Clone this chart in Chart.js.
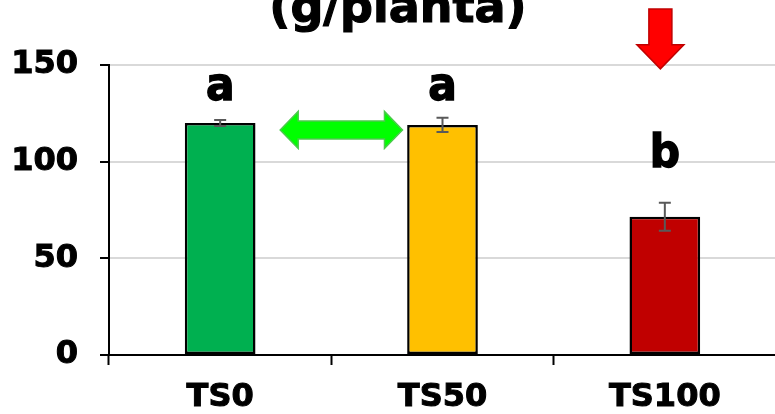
<!DOCTYPE html>
<html>
<head>
<meta charset="utf-8">
<script src="https://cdn.jsdelivr.net/npm/chart.js@4/dist/chart.umd.min.js"></script>
<style>
  html, body { margin: 0; padding: 0; background: #fff; overflow: hidden; }
  #wrap { width: 775px; height: 414px; overflow: hidden; }
</style>
</head>
<body>
<div id="wrap"><canvas id="c" width="780" height="414"></canvas></div>
<script>
// Fresh weight per plant, by treatment
const categories = ['TS0', 'TS50', 'TS100'];
const weights = [120, 119, 71.5];
const stdErrors = [1.5, 3.7, 7.2];
const groupLetters = ['a', 'a', 'b'];
const letterLevels = [132, 132, 97];
const barColors = ['#00B050', '#FFC000', '#C00000'];
const yTicks = [0, 50, 100, 150];
const titleText = '(g/planta)';

const FONT = '"DejaVu Sans", Verdana, sans-serif';

// error bars, significance letters, arrows and title
const extras = {
  id: 'extras',
  afterDatasetsDraw(chart) {
    const ctx = chart.ctx;
    const x = chart.scales.x, y = chart.scales.y;

    // error bars
    ctx.save();
    ctx.strokeStyle = '#595959';
    ctx.lineWidth = 2;
    weights.forEach((v, i) => {
      const cx = x.getPixelForValue(i);
      const top = y.getPixelForValue(v + stdErrors[i]);
      const bot = y.getPixelForValue(v - stdErrors[i]);
      ctx.beginPath();
      ctx.moveTo(cx, top); ctx.lineTo(cx, bot);
      ctx.moveTo(cx - 6, top); ctx.lineTo(cx + 6, top);
      ctx.moveTo(cx - 6, bot); ctx.lineTo(cx + 6, bot);
      ctx.stroke();
    });
    ctx.restore();

    // group letters
    ctx.save();
    ctx.fillStyle = '#000';
    ctx.strokeStyle = '#000';
    ctx.lineWidth = 1.4;
    ctx.font = 'bold 47px "DejaVu Sans Condensed", ' + FONT;
    ctx.textAlign = 'center';
    ctx.textBaseline = 'alphabetic';
    groupLetters.forEach((t, i) => {
      const px = x.getPixelForValue(i), py = y.getPixelForValue(letterLevels[i]);
      ctx.fillText(t, px, py);
      ctx.strokeText(t, px, py);
    });
    ctx.restore();

    // double arrow between TS0 and TS50
    const gx0 = x.getPixelForValue(0.27), gx1 = x.getPixelForValue(0.82);
    const gy = y.getPixelForValue(116.4);
    const head = 18, halfH = 18.5, halfS = 9;
    ctx.save();
    ctx.beginPath();
    ctx.moveTo(gx0, gy);
    ctx.lineTo(gx0 + head, gy - halfH);
    ctx.lineTo(gx0 + head, gy - halfS);
    ctx.lineTo(gx1 - head, gy - halfS);
    ctx.lineTo(gx1 - head, gy - halfH);
    ctx.lineTo(gx1, gy);
    ctx.lineTo(gx1 - head, gy + halfH);
    ctx.lineTo(gx1 - head, gy + halfS);
    ctx.lineTo(gx0 + head, gy + halfS);
    ctx.lineTo(gx0 + head, gy + halfH);
    ctx.closePath();
    ctx.fillStyle = '#00FF00';
    ctx.fill();
    ctx.strokeStyle = '#4CC94C';
    ctx.lineWidth = 1.5;
    ctx.stroke();
    ctx.restore();

    // down arrow above TS100
    const rx = x.getPixelForValue(1.98);
    const rTip = y.getPixelForValue(148);
    const rTop = y.getPixelForValue(179);
    const rHead = 24, rHalfH = 23.5, rHalfS = 11.5;
    ctx.save();
    ctx.beginPath();
    ctx.moveTo(rx - rHalfS, rTop);
    ctx.lineTo(rx + rHalfS, rTop);
    ctx.lineTo(rx + rHalfS, rTip - rHead);
    ctx.lineTo(rx + rHalfH, rTip - rHead);
    ctx.lineTo(rx, rTip);
    ctx.lineTo(rx - rHalfH, rTip - rHead);
    ctx.lineTo(rx - rHalfS, rTip - rHead);
    ctx.closePath();
    ctx.fillStyle = '#FF0000';
    ctx.fill();
    ctx.strokeStyle = '#C00000';
    ctx.lineWidth = 1.5;
    ctx.stroke();
    ctx.restore();

    // title
    ctx.save();
    ctx.fillStyle = '#000';
    ctx.strokeStyle = '#000';
    ctx.lineWidth = 1.2;
    ctx.font = 'bold 46px ' + FONT;
    ctx.textAlign = 'center';
    ctx.textBaseline = 'alphabetic';
    ctx.fillText(titleText, 398, 22);
    ctx.strokeText(titleText, 398, 22);
    ctx.restore();
  }
};

new Chart(document.getElementById('c'), {
  type: 'bar',
  data: {
    labels: categories,
    datasets: [{
      data: weights,
      backgroundColor: barColors,
      borderColor: '#000',
      borderWidth: 2.5,
      borderSkipped: false,
      barPercentage: 0.318,
      categoryPercentage: 1
    }]
  },
  options: {
    responsive: false,
    animation: false,
    devicePixelRatio: 1,
    layout: { padding: { top: 65, right: 4, left: 0, bottom: 0 } },
    plugins: {
      legend: { display: false },
      tooltip: { enabled: false },
      title: { display: false }
    },
    scales: {
      x: {
        afterFit(s) { s.height = 59; },
        grid: {
          offset: true,
          drawOnChartArea: false,
          tickLength: 10,
          tickColor: '#000',
          tickWidth: 2
        },
        border: { color: '#000', width: 2 },
        ticks: {
          padding: 13,
          color: '#000',
          textStrokeColor: '#000',
          textStrokeWidth: 1,
          font: { family: FONT, size: 32, weight: 'bold' }
        }
      },
      y: {
        min: 0,
        max: 150,
        afterFit(s) { s.width = 109; },
        afterBuildTicks(s) { s.ticks = yTicks.map(v => ({ value: v })); },
        grid: {
          color: '#d9d9d9',
          lineWidth: 2,
          tickLength: 9,
          tickColor: '#000',
          tickWidth: 2
        },
        border: { color: '#000', width: 2 },
        ticks: {
          padding: 22,
          color: '#000',
          textStrokeColor: '#000',
          textStrokeWidth: 1,
          font: { family: FONT, size: 32, weight: 'bold' }
        }
      }
    }
  },
  plugins: [extras]
});
</script>
</body>
</html>
